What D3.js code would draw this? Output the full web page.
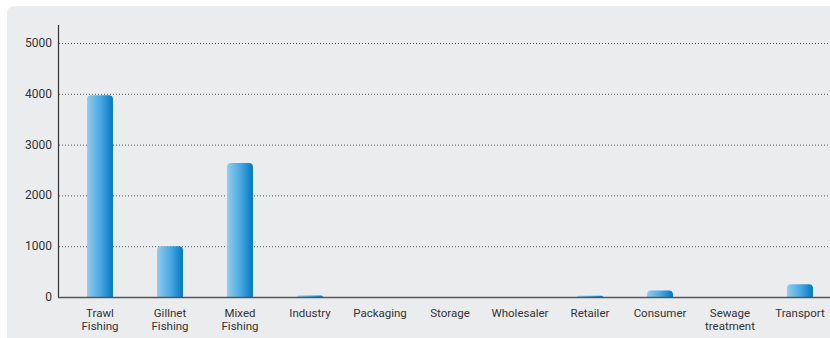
<!DOCTYPE html>
<html>
<head>
<meta charset="utf-8">
<script src="https://cdn.jsdelivr.net/npm/d3@7"></script>
<style>
  body { margin: 0; background: #fff; }
  svg { display: block; font-family: Roboto, "Liberation Sans", sans-serif; }
</style>
</head>
<body>
<div id="chart"></div>
<script>
var categories = ["Trawl Fishing", "Gillnet Fishing", "Mixed Fishing", "Industry", "Packaging",
  "Storage", "Wholesaler", "Retailer", "Consumer", "Sewage treatment", "Transport"];
var values = [3970, 1000, 2640, 30, 0, 0, 0, 25, 130, 0, 250];
var yTicks = [0, 1000, 2000, 3000, 4000, 5000];

var W = 830, H = 338;
var svg = d3.select("#chart").append("svg").attr("width", W).attr("height", H);

// background panel
svg.append("path")
  .attr("d", "M7,338 L7,14 Q7,6 15,6 L830,6 L830,338 Z")
  .attr("fill", "#ebecee");

var defs = svg.append("defs");
var grad = defs.append("linearGradient").attr("id", "barGrad")
  .attr("x1", "0%").attr("x2", "100%").attr("y1", "0%").attr("y2", "0%");
grad.append("stop").attr("offset", "0%").attr("stop-color", "#8fcdf1");
grad.append("stop").attr("offset", "55%").attr("stop-color", "#45a6e0");
grad.append("stop").attr("offset", "100%").attr("stop-color", "#0078c3");

var x = d3.scaleBand().domain(categories).range([65, 835]).paddingInner(0.63).paddingOuter(0.315);
var y = d3.scaleLinear().domain([0, 5000]).range([297, 43]);

// grid
svg.append("g").selectAll("line").data(yTicks.filter(function (d) { return d > 0; }))
  .enter().append("line")
  .attr("x1", 59).attr("x2", 830)
  .attr("y1", function (d) { return y(d) + 0.5; })
  .attr("y2", function (d) { return y(d) + 0.5; })
  .attr("stroke", "#555").attr("stroke-width", 1).attr("stroke-dasharray", "1,2");

// y tick labels
svg.append("g").selectAll("text").data(yTicks).enter().append("text")
  .attr("x", 52).attr("y", function (d) { return y(d) + 4; })
  .attr("text-anchor", "end").attr("font-size", 12).attr("fill", "#333")
  .text(function (d) { return d; });

// bars with rounded tops
function barPath(d, i) {
  var x0 = x(categories[i]), w = x.bandwidth();
  var y0 = y(d), yb = y(0);
  var h = yb - y0;
  if (h <= 0) return "";
  var r = Math.min(4, h, w / 2);
  return "M" + x0 + "," + yb + " L" + x0 + "," + (y0 + r) +
    " Q" + x0 + "," + y0 + " " + (x0 + r) + "," + y0 +
    " L" + (x0 + w - r) + "," + y0 +
    " Q" + (x0 + w) + "," + y0 + " " + (x0 + w) + "," + (y0 + r) +
    " L" + (x0 + w) + "," + yb + " Z";
}
svg.append("g").selectAll("path").data(values).enter().append("path")
  .attr("d", barPath)
  .attr("fill", "url(#barGrad)");

// axes lines
svg.append("line").attr("x1", 58.5).attr("x2", 58.5).attr("y1", 25).attr("y2", 298)
  .attr("stroke", "#333").attr("stroke-width", 1.2);
svg.append("line").attr("x1", 58).attr("x2", 830).attr("y1", 297.5).attr("y2", 297.5)
  .attr("stroke", "#555").attr("stroke-width", 1.3);

// category labels
var lab = svg.append("g").selectAll("text").data(categories).enter().append("text")
  .attr("x", function (d) { return x(d) + x.bandwidth() / 2; })
  .attr("y", 317).attr("text-anchor", "middle").attr("font-size", 11.5).attr("fill", "#333");
lab.each(function (d) {
  var parts = d.split(" ");
  var t = d3.select(this);
  parts.forEach(function (p, k) {
    t.append("tspan").attr("x", t.attr("x")).attr("dy", k === 0 ? 0 : 13).text(p);
  });
});
</script>
</body>
</html>
